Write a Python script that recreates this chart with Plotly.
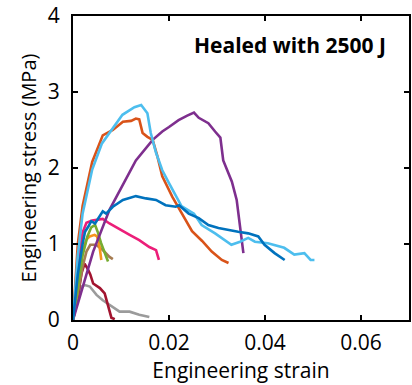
import plotly.graph_objects as go

# ---- data (engineering strain, engineering stress MPa) ----
gray_x = [0, 0.001, 0.0018, 0.0025, 0.0035, 0.0049, 0.0062, 0.008, 0.0097, 0.0118, 0.0138, 0.0159]
gray_y = [0, 0.30, 0.44, 0.46, 0.44, 0.33, 0.26, 0.18, 0.11, 0.11, 0.07, 0.04]

darkred_x = [0, 0.001, 0.0018, 0.0024, 0.003, 0.0036, 0.0042, 0.0056, 0.0066, 0.0073, 0.008, 0.0087]
darkred_y = [0, 0.30, 0.62, 0.74, 0.68, 0.60, 0.48, 0.42, 0.35, 0.18, 0.03, 0.01]

brown_x = [0, 0.001, 0.002, 0.0028, 0.0036, 0.0048, 0.0062, 0.0076, 0.0083]
brown_y = [0, 0.35, 0.70, 0.90, 0.99, 0.99, 0.92, 0.83, 0.80]

orange_x = [0, 0.001, 0.002, 0.0028, 0.0035, 0.0045, 0.005, 0.0055, 0.0059]
orange_y = [0, 0.45, 0.90, 1.06, 1.10, 1.12, 1.10, 0.98, 0.79]

green_x = [0, 0.001, 0.002, 0.003, 0.0038, 0.0046, 0.0052, 0.0058, 0.0066, 0.0073]
green_y = [0, 0.45, 0.85, 1.10, 1.22, 1.25, 1.15, 1.02, 0.90, 0.77]

pink_x = [0, 0.001, 0.002, 0.0028, 0.004, 0.0062, 0.0076, 0.0097, 0.0118, 0.0138, 0.0159, 0.0173, 0.0179]
pink_y = [0, 0.70, 1.15, 1.28, 1.31, 1.33, 1.27, 1.20, 1.12, 1.05, 0.96, 0.92, 0.79]

purple_x = [0, 0.002, 0.0042, 0.0076, 0.0087, 0.0104, 0.0131, 0.0166, 0.0186, 0.02, 0.022, 0.0238,
            0.0252, 0.0262, 0.0274, 0.0282, 0.0296, 0.0307, 0.0313, 0.0331, 0.0341, 0.0348, 0.0355]
purple_y = [0, 0.42, 0.90, 1.45, 1.58, 1.78, 2.10, 2.37, 2.48, 2.54, 2.63, 2.69,
            2.73, 2.66, 2.62, 2.59, 2.48, 2.40, 2.10, 1.82, 1.58, 1.23, 0.88]

darkblue_x = [0, 0.001, 0.002, 0.0025, 0.0032, 0.0038, 0.0046, 0.0056, 0.0062, 0.0069, 0.0083, 0.0104,
              0.0131, 0.0152, 0.0173, 0.0193, 0.0214, 0.0221, 0.0241, 0.0262, 0.0282, 0.0303, 0.0324,
              0.0344, 0.0365, 0.0386, 0.0399, 0.042, 0.0441]
darkblue_y = [0, 0.60, 1.00, 1.16, 1.23, 1.30, 1.27, 1.38, 1.43, 1.40, 1.49, 1.58,
              1.63, 1.60, 1.58, 1.51, 1.49, 1.51, 1.40, 1.34, 1.25, 1.21, 1.18,
              1.16, 1.14, 1.10, 0.99, 0.88, 0.79]

orangered_x = [0, 0.001, 0.002, 0.004, 0.0062, 0.0083, 0.0104, 0.0121, 0.0131, 0.0138, 0.0145, 0.0155,
               0.0166, 0.0176, 0.0186, 0.02, 0.0207, 0.0227, 0.0248, 0.0269, 0.0289, 0.031, 0.0324]
orangered_y = [0, 1.00, 1.50, 2.08, 2.43, 2.50, 2.61, 2.62, 2.65, 2.64, 2.46, 2.41,
               2.37, 2.15, 1.89, 1.71, 1.62, 1.40, 1.17, 1.04, 0.90, 0.79, 0.75]

lightblue_x = [0, 0.001, 0.002, 0.004, 0.006, 0.008, 0.0103, 0.0128, 0.0142, 0.0155, 0.0162, 0.0173,
               0.0186, 0.02, 0.0226, 0.0252, 0.0268, 0.0296, 0.033, 0.0348, 0.0365, 0.0379, 0.0406,
               0.044, 0.0461, 0.0482, 0.0495, 0.0503]
lightblue_y = [0, 0.85, 1.40, 1.98, 2.32, 2.50, 2.70, 2.80, 2.83, 2.72, 2.46, 2.20,
               1.97, 1.80, 1.50, 1.40, 1.25, 1.14, 0.99, 1.03, 1.08, 1.03, 1.01,
               0.95, 0.86, 0.88, 0.79, 0.79]

x_ticks = [0, 0.02, 0.04, 0.06]
x_tick_labels = ["0", "0.02", "0.04", "0.06"]
y_ticks = [0, 1, 2, 3, 4]
y_tick_labels = ["0", "1", "2", "3", "4"]

series = [
    (gray_x, gray_y, "#9B9B9B"),
    (darkred_x, darkred_y, "#A2142F"),
    (brown_x, brown_y, "#A67C52"),
    (orange_x, orange_y, "#F7941D"),
    (green_x, green_y, "#77AC30"),
    (pink_x, pink_y, "#EC1E79"),
    (purple_x, purple_y, "#7E2F8E"),
    (orangered_x, orangered_y, "#D95319"),
    (lightblue_x, lightblue_y, "#4DBEEE"),
    (darkblue_x, darkblue_y, "#0072BD"),
]

fig = go.Figure()
for xs, ys, c in series:
    fig.add_trace(go.Scatter(x=xs, y=ys, mode="lines",
                             line=dict(color=c, width=2.6), showlegend=False,
                             hoverinfo="skip"))

font_family = "Open Sans, Noto Sans, sans-serif"
axis_common = dict(showgrid=False, zeroline=False, showline=True, linecolor="black",
                   linewidth=2, mirror="ticks", ticks="inside", ticklen=5, tickwidth=2,
                   tickcolor="black", ticklabeloverflow="allow",
                   tickfont=dict(size=21, color="black", family=font_family))

fig.update_layout(
    width=412, height=385,
    margin=dict(l=73, r=1, t=16, b=65),
    paper_bgcolor="white", plot_bgcolor="white",
    font=dict(family=font_family, color="black"),
    xaxis=dict(range=[0, 0.07], tickvals=x_ticks, ticktext=x_tick_labels,
               ticklabelstandoff=3,
               title=dict(text="Engineering strain", font=dict(size=21), standoff=0),
               **axis_common),
    yaxis=dict(range=[0, 4], tickvals=y_ticks, ticktext=y_tick_labels,
               ticklabelstandoff=7,
               title=dict(text="Engineering stress (MPa)", font=dict(size=20), standoff=6),
               **axis_common),
    annotations=[dict(text="<b>Healed with 2500 J</b>", xref="paper", yref="paper",
                      x=0.938, y=0.905, xanchor="right", yanchor="middle",
                      showarrow=False, font=dict(size=21, color="black", family=font_family))],
)

fig.write_html("out.html")
